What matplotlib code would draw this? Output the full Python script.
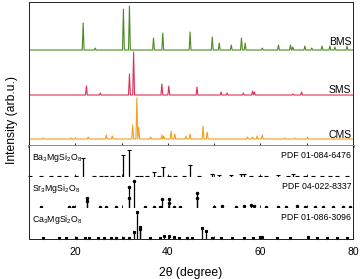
import matplotlib
matplotlib.use("Agg")
import matplotlib.pyplot as plt

plt.rcParams['font.family'] = ['Liberation Sans', 'DejaVu Sans']

# measured patterns: peak positions (2theta) and heights
bms_pos = [21.7, 24.3, 30.4, 31.7, 36.9, 38.9, 44.8, 49.6, 51.1, 53.7, 55.9, 56.7,
           60.4, 63.9, 66.5, 67.0, 69.6, 71.1, 73.3, 75.0, 76.1, 78.7]
bms_h = [27, 2, 41, 44, 12, 17, 18, 13, 7, 5, 12, 7, 2, 5, 5, 3, 4, 2, 4, 4, 3, 4]

sms_pos = [22.4, 25.4, 31.7, 32.6, 38.7, 40.2, 46.3, 51.5, 52.8, 56.3, 58.3, 58.7, 67.0, 68.9]
sms_h = [9, 2, 21, 43, 11, 9, 8, 3, 2, 2, 4, 3, 1, 3]

cms_pos = [13.1, 19.1, 20.0, 22.8, 26.7, 28.0, 32.4, 33.3, 33.7, 36.3, 38.7, 39.1, 40.7,
           41.5, 43.9, 44.8, 47.6, 48.5, 57.2, 58.3, 59.3, 60.4, 65.2, 67.4, 70.2]
cms_h = [1, 1, 1, 2, 4, 3, 14, 41, 12, 2, 4, 3, 8, 5, 3, 5, 13, 7, 2, 2, 3, 4, 1, 1, 2]

samples = ["BMS", "SMS", "CMS"]
offsets = [96, 51, 7]

# reference cards (PDF): stick positions and heights
ba_pos = [21.7, 30.4, 31.7, 36.9, 38.9, 44.8, 49.6, 51.1, 53.7, 55.9, 56.5, 63.7, 67.0,
          10.2, 12.6, 14.8, 16.5, 18.0, 20.2, 24.1, 25.6, 26.7, 28.0, 29.3, 33.3, 34.3,
          35.4, 38.0, 40.2, 41.5, 43.5, 46.7, 58.0, 59.8, 61.3, 65.9, 67.8, 69.6, 71.3,
          73.3, 75.0, 76.5, 78.7]
ba_h = [19, 22, 27, 5, 10, 12, 3, 2, 2, 3, 3, 2, 3,
        0.8, 0.8, 0.8, 0.8, 0.8, 0.8, 1, 0.8, 0.8, 0.8, 0.8, 0.8, 0.8,
        0.8, 0.8, 0.8, 0.8, 0.8, 0.8, 0.8, 0.8, 0.8, 0.8, 0.8, 0.8, 0.8,
        0.8, 1, 1, 0.8]

sr_pos = [22.6, 22.6, 31.7, 31.7, 32.6, 38.7, 40.2, 40.2, 46.3, 46.3, 51.7, 56.5, 58.0,
          58.7, 67.8, 12.6, 18.7, 19.6, 25.4, 26.7, 28.9, 35.0, 36.9, 38.3, 41.3, 42.6,
          50.0, 54.8, 61.3, 63.7, 65.6, 69.6, 71.7, 73.5, 75.7, 77.8, 79.4]
sr_h = [10, 7, 21, 10, 27, 9, 9, 5, 15, 10, 2, 2, 3,
        2, 2, 0.8, 0.8, 0.8, 1, 0.8, 0.8, 0.8, 0.8, 0.8, 0.8, 0.8,
        0.8, 0.8, 0.8, 0.8, 0.8, 0.8, 0.8, 0.8, 0.8, 0.8, 0.8]

ca_pos = [32.6, 33.3, 33.9, 33.9, 39.1, 40.2, 41.3, 47.4, 48.3, 59.8, 60.4, 70.2,
          13.0, 16.5, 18.0, 20.2, 22.0, 23.0, 25.0, 26.3, 27.8, 28.9, 30.4, 31.5, 36.1,
          38.3, 42.4, 44.1, 45.2, 49.6, 51.5, 53.9, 56.5, 58.3, 63.5, 66.3, 72.2, 74.3,
          76.5, 78.7]
ca_h = [7, 27, 12, 10, 3, 3, 2, 11, 8, 2, 2, 2,
        1, 0.8, 0.8, 1, 0.8, 0.8, 0.8, 0.8, 1, 0.8, 0.8, 0.8, 0.8,
        0.8, 0.8, 0.8, 0.8, 0.8, 0.8, 0.8, 0.8, 0.8, 0.8, 0.8, 0.8, 0.8,
        0.8, 0.8]

phases = [("Ba", "PDF 01-084-6476", "_"), ("Sr", "PDF 04-022-8337", "o"),
          ("Ca", "PDF 01-086-3096", "s")]


def pattern_line(pos, heights, base, width=0.2):
    # sharp peaks on a flat baseline through the read peak tops
    pts = [(10, base), (80, base)]
    for p, h in zip(pos, heights):
        pts += [(p - width, base), (p, base + h), (p + width, base)]
    pts.sort()
    return [q[0] for q in pts], [q[1] for q in pts]


def style_axis(ax, labels):
    ax.set_xlim(10, 80)
    ax.set_yticks([])
    ax.set_xticks([20, 40, 60, 80])
    ax.set_xticks([30, 50, 70], minor=True)
    ax.tick_params(axis='x', which='both', direction='in', length=2.5,
                   width=0.6, labelsize=7.5, pad=6, labelbottom=labels)
    for s in ax.spines.values():
        s.set_linewidth(0.7)
        s.set_color("#222222")


fig = plt.figure(figsize=(3.6, 2.79), dpi=100)
left, width = 29 / 360, 324 / 360

ax = fig.add_axes([left, 0.4767, width, 0.516])
style_axis(ax, False)
ax.set_ylim(0, 144)
ax.spines['bottom'].set_color("#808080")
ax.spines['bottom'].set_linewidth(2)
colors = ["#4b8b22", "#e0305a", "#f0a020"]
data = [(bms_pos, bms_h), (sms_pos, sms_h), (cms_pos, cms_h)]
label_y = [104.5, 56.5, 11.5]
for (pos, h), base, c, name, ty in zip(data, offsets, colors, samples, label_y):
    xs, ys = pattern_line(pos, h, base)
    ax.plot(xs, ys, color=c, lw=0.8)
    ax.text(79.6, ty, name, ha='right', va='center', fontsize=7.5)

ref_data = [(ba_pos, ba_h), (sr_pos, sr_h), (ca_pos, ca_h)]
bottoms = [0.3656, 0.2545, 0.1434]
sizes = {"_": 3, "o": 1.7, "s": 1.5}
for (pos, h), (el, card, mk), b in zip(ref_data, phases, bottoms):
    rax = fig.add_axes([left, b, width, 0.111])
    style_axis(rax, el == "Ca")
    rax.set_ylim(0, 31)
    rax.spines['top'].set_visible(False)
    rax.vlines(pos, 0, h, color="black", lw=0.9)
    rax.plot(pos, h, ls='none', marker=mk, color="black", markersize=sizes[mk],
             mew=0.8, clip_on=False)
    rax.text(10.6, 20, "$\\mathregular{%s_3MgSi_2O_8}$" % el, ha='left', va='center',
             fontsize=6.3)
    rax.text(79.6, 21.5, card, ha='right', va='center', fontsize=6.3)
    if el == "Ca":
        rax.set_xlabel("2θ (degree)", fontsize=8.7, labelpad=7)

fig.text(12 / 360, 0.57, "Intensity (arb.u.)", rotation=90, ha='center', va='center',
         fontsize=8.7)

fig.savefig("out.png", dpi=100)
